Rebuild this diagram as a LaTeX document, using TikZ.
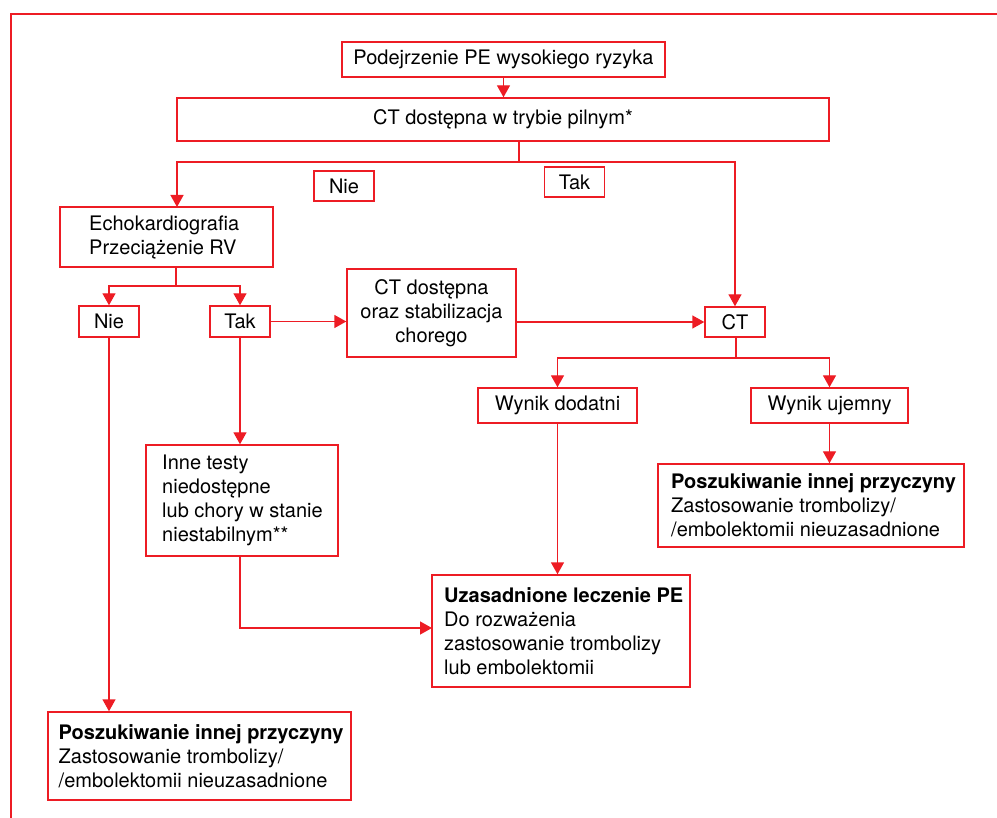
\documentclass[tikz,border=0pt]{standalone}
\usepackage{fontspec}
\setmainfont{TeX Gyre Heros}
\usetikzlibrary{arrows.meta}
\definecolor{pered}{RGB}{237,28,36}
\begin{document}
\begin{tikzpicture}[x=1pt,y=-1pt,
  font=\fontsize{20}{24}\selectfont,
  box/.style={draw=pered, line width=1.4pt, inner sep=0pt, align=center},
  txt/.style={anchor=west, inner sep=0pt, align=left},
  conn/.style={draw=pered, line width=1.4pt},
  arr/.style={conn, -{Triangle[width=13pt,length=12pt]}}]
\useasboundingbox (0,0) rectangle (997,818);
% frame
\draw[pered, line width=1.4pt] (997,14) -- (11,14) -- (11,818);
% boxes
\node[box, minimum width=323pt, minimum height=35pt] (p1) at (503.5,59.5) {Podejrzenie PE wysokiego ryzyka};
\node[box, minimum width=652pt, minimum height=43pt] (ct1) at (503,119.5) {CT dostępna w trybie pilnym*};
\node[box, minimum width=60pt, minimum height=30pt] (lnie) at (344,186) {Nie};
\node[box, minimum width=59.5pt, minimum height=30pt] (ltak) at (574.5,182) {Tak};
\node[box, minimum width=213pt, minimum height=60pt] (echo) at (166.5,237) {};
\node[txt] (echo-t) at (89,237) {Echokardiografia\\Przeciążenie RV};
\node[box, minimum width=60pt, minimum height=31pt] (nie2) at (109,321.5) {Nie};
\node[box, minimum width=60pt, minimum height=31pt] (tak2) at (240,321.5) {Tak};
\node[box, minimum width=169pt, minimum height=88pt] (ctstab) at (431.5,313) {CT dostępna\\oraz stabilizacja\\chorego};
\node[box, minimum width=60pt, minimum height=30pt] (ct) at (735,322) {CT};
\node[box, minimum width=159pt, minimum height=35pt] (dod) at (557.5,405.5) {Wynik dodatni};
\node[box, minimum width=157pt, minimum height=35pt] (uje) at (829.5,405.5) {Wynik ujemny};
\node[box, minimum width=306pt, minimum height=83pt] (poszR) at (811,505.5) {};
\node[txt] (poszR-t) at (671,505.5) {\textbf{Poszukiwanie innej przyczyny}\\Zastosowanie trombolizy/\\/embolektomii nieuzasadnione};
\node[box, minimum width=258pt, minimum height=112pt] (uzas) at (561,631) {};
\node[txt] (uzas-t) at (444,631) {\textbf{Uzasadnione leczenie PE}\\Do rozważenia\\zastosowanie trombolizy\\lub embolektomii};
\node[box, minimum width=192pt, minimum height=111pt] (inne) at (242,500.5) {};
\node[txt] (inne-t) at (162,500.5) {Inne testy\\niedostępne\\lub chory w stanie\\niestabilnym**};
\node[box, minimum width=303pt, minimum height=88pt] (poszL) at (199.5,756) {};
\node[txt] (poszL-t) at (58.5,756) {\textbf{Poszukiwanie innej przyczyny}\\Zastosowanie trombolizy/\\/embolektomii nieuzasadnione};
% junctions
\coordinate (j1) at (519,162);
\coordinate (ein) at (177,207);
\coordinate (j2) at (176,286);
\coordinate (j3) at (736,358);
\coordinate (uin) at (432,628);
% connectors
\draw[arr] (p1.south) -- (p1.south |- ct1.north);
\draw[conn] (ct1.south -| j1) -- (j1);
\draw[arr] (j1) -| (ein);
\draw[arr] (j1) -| (ct.north);
\draw[conn] (echo.south -| j2) -- (j2);
\draw[arr] (j2) -| (nie2.north);
\draw[arr] (j2) -| (tak2.north);
\draw[arr] (tak2.east) -- (tak2.east -| ctstab.west);
\draw[arr] (ct.west -| ctstab.east) -- (ct.west);
\draw[conn] (ct.south -| j3) -- (j3);
\draw[arr] (j3) -| (dod.north);
\draw[arr] (j3) -| (uje.north);
\draw[arr] (uje.south) -- (uje.south |- poszR.north);
\draw[arr] (dod.south) -- (dod.south |- uzas.north);
\draw[arr] (tak2.south) -- (tak2.south |- inne.north);
\draw[arr] (tak2.south |- inne.south) |- (uin);
\draw[arr] (nie2.south) -- (nie2.south |- poszL.north);
\end{tikzpicture}
\end{document}
